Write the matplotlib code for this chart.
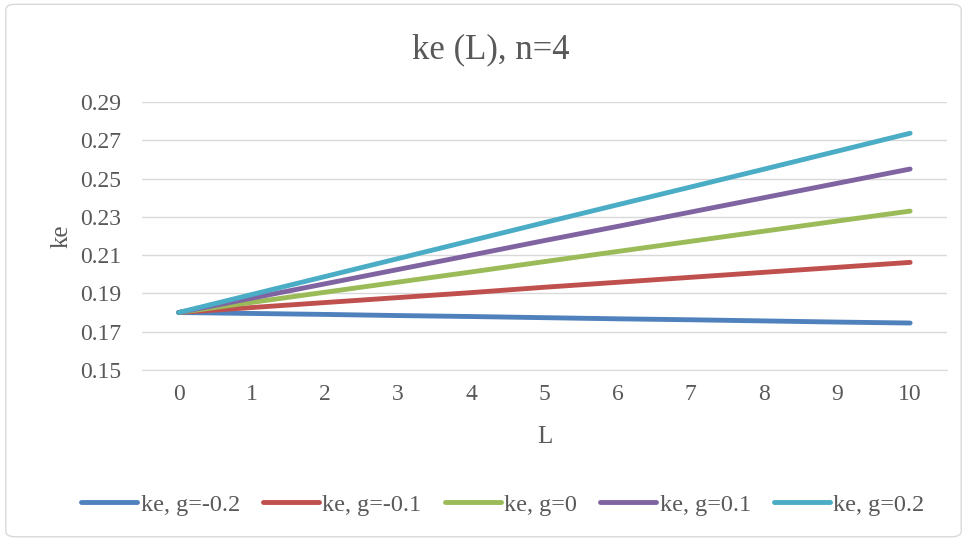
import matplotlib.pyplot as plt
from matplotlib.patches import FancyBboxPatch

L = list(range(11))
ke_m02 = [0.180, 0.1795, 0.1790, 0.1784, 0.1779, 0.1773, 0.1767, 0.1762, 0.1756, 0.1750, 0.1745]
ke_m01 = [0.180, 0.1826, 0.1852, 0.1878, 0.1904, 0.1932, 0.1958, 0.1984, 0.2010, 0.2036, 0.2062]
ke_0 = [0.180, 0.1853, 0.1906, 0.1959, 0.2012, 0.2066, 0.2119, 0.2172, 0.2225, 0.2278, 0.2330]
ke_p01 = [0.180, 0.1875, 0.1950, 0.2025, 0.2100, 0.2176, 0.2250, 0.2325, 0.2400, 0.2475, 0.2550]
ke_p02 = [0.180, 0.1894, 0.1988, 0.2082, 0.2176, 0.2270, 0.2363, 0.2456, 0.2549, 0.2643, 0.2737]

series = [ke_m02, ke_m01, ke_0, ke_p01, ke_p02]
labels = ["ke, g=-0.2", "ke, g=-0.1", "ke, g=0", "ke, g=0.1", "ke, g=0.2"]
colors = ["#4F81BD", "#C0504D", "#9BBB59", "#8064A2", "#4BACC6"]
yticks = [0.15, 0.17, 0.19, 0.21, 0.23, 0.25, 0.27, 0.29]

plt.rcParams['font.family'] = ['Liberation Serif', 'DejaVu Serif']
text_color = "#595959"

fig = plt.figure(figsize=(9.67, 5.4), dpi=100)
ax = fig.add_axes([0.147, 0.315, 0.832, 0.496])

# chart border like Excel
border = FancyBboxPatch((0.006, 0.006), 0.988, 0.986, boxstyle="round,pad=0,rounding_size=0.01",
                        transform=fig.transFigure, fill=False, edgecolor="#d9d9d9", linewidth=1.0)
fig.patches.append(border)

for vals, lab, col in zip(series, labels, colors):
    ax.plot(L, vals, color=col, linewidth=3.5, solid_capstyle='round', label=lab)

ax.set_xlim(-0.5, 10.5)
ax.set_ylim(0.15, 0.29)
ax.set_yticks(yticks)
ax.set_yticklabels([f"{v:.2f}" for v in yticks])
ax.set_xticks(L)
ax.grid(axis='y', color="#d9d9d9", linewidth=1.0)
ax.set_axisbelow(True)
for s in ['top', 'right', 'left']:
    ax.spines[s].set_visible(False)
ax.spines['bottom'].set_color("#d9d9d9")
ax.tick_params(length=0, labelsize=17, colors=text_color)
ax.tick_params(axis='x', pad=10)
ax.tick_params(axis='y', pad=15)

ax.set_xlabel("L", fontsize=18, color=text_color, va='center')
ax.xaxis.set_label_coords(0.5, -0.25)
ax.set_ylabel("ke", fontsize=18, color=text_color, va='center')
ax.yaxis.set_label_coords(-0.1, 0.5)
fig.text(0.508, 0.907, "ke (L), n=4", ha='center', va='center', fontsize=25, color=text_color)

fig.legend(loc='center', bbox_to_anchor=(0.52, 0.065), ncol=5, frameon=False,
           fontsize=17.5, labelcolor=text_color, handlelength=2.3, handletextpad=0.15,
           columnspacing=0.95)

fig.savefig("out.png", dpi=100)
